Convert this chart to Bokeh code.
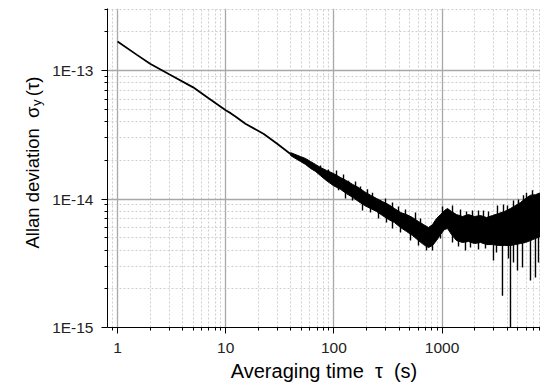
import math
from bokeh.plotting import figure
from bokeh.models import FixedTicker, CustomJSTickFormatter, Label, Range1d
from bokeh.embed import file_html
from bokeh.resources import INLINE

# ---- data ----
tau_line = [1, 1.5, 2, 3, 5, 7, 10, 11.1, 12.3, 15.2, 22.5, 29.9, 39.7, 49.1]
adev_line = [1.68e-13, 1.33e-13, 1.13e-13, 9.36e-14, 7.40e-14, 6.05e-14, 4.90e-14,
             4.66e-14, 4.38e-14, 3.85e-14, 3.21e-14, 2.69e-14, 2.24e-14, 2.05e-14]

tau_band = [39.7, 49.1, 54.6, 60.8, 67.6, 75.2, 85.4, 99.2, 115, 131, 149, 169, 192,
            218, 248, 281, 320, 363, 413, 469, 533, 605, 673, 749, 816, 888, 967,
            1052, 1122, 1222, 1359, 1543, 1754, 1993, 2264, 2572, 2923, 3321, 3773,
            4287, 4769, 5304, 5899, 6561, 7297, 8117]
adev_upper = [2.30e-14, 2.14e-14, 2.07e-14, 1.96e-14, 1.86e-14, 1.76e-14, 1.67e-14,
              1.58e-14, 1.47e-14, 1.39e-14, 1.30e-14, 1.23e-14, 1.14e-14, 1.07e-14,
              1.01e-14, 9.56e-15, 9.06e-15, 8.44e-15, 7.85e-15, 7.57e-15, 7.18e-15,
              6.68e-15, 6.33e-15, 6.00e-15, 6.33e-15, 7.05e-15, 7.57e-15, 8.14e-15,
              8.44e-15, 7.99e-15, 7.57e-15, 7.31e-15, 7.57e-15, 7.31e-15, 7.44e-15,
              7.18e-15, 7.44e-15, 7.71e-15, 7.99e-15, 8.44e-15, 8.90e-15, 9.39e-15,
              1.01e-14, 1.07e-14, 1.08e-14, 1.12e-14]
adev_lower = [2.18e-14, 1.96e-14, 1.86e-14, 1.73e-14, 1.64e-14, 1.52e-14, 1.39e-14,
              1.27e-14, 1.19e-14, 1.10e-14, 1.03e-14, 9.56e-15, 8.90e-15, 8.44e-15,
              7.99e-15, 7.44e-15, 6.93e-15, 6.56e-15, 6.00e-15, 5.59e-15, 5.20e-15,
              4.75e-15, 4.42e-15, 4.19e-15, 4.35e-15, 4.75e-15, 5.29e-15, 5.79e-15,
              5.89e-15, 5.29e-15, 4.75e-15, 4.59e-15, 4.67e-15, 4.50e-15, 4.59e-15,
              4.42e-15, 4.42e-15, 4.35e-15, 4.35e-15, 4.35e-15, 4.42e-15, 4.50e-15,
              4.59e-15, 4.75e-15, 4.93e-15, 5.11e-15]

# noise spikes sticking out of the band: (tau, band value, tip value)
tau_spike = [75.2, 89.1, 105.7, 110.3, 122.7, 128.0, 136.4, 148.6, 158.4, 176.1,
             183.8, 204.4, 217.9, 227.3, 258.4, 299.9, 306.3, 348.0, 348.0, 395.4,
             412.6, 458.9, 510.5, 567.9, 605.2, 631.5, 717.6, 815.5, 966.5, 1009,
             1248, 1248, 1418, 1480, 1645, 1681, 1830, 1910, 2170, 2170, 2413, 2518,
             2685, 2985, 3183, 3251, 3615, 3694, 4021, 4109, 4287, 4571, 4571, 4977,
             5082, 5536, 5655, 6026, 6561, 6846, 7297, 7780]
spike_base = [1.64e-14, 1.50e-14, 1.39e-14, 1.37e-14, 1.32e-14, 1.25e-14, 1.19e-14,
              1.17e-14, 1.14e-14, 1.07e-14, 1.03e-14, 9.73e-15, 9.56e-15, 9.39e-15,
              8.74e-15, 8.29e-15, 7.99e-15, 7.57e-15, 7.57e-15, 7.05e-15, 6.80e-15,
              6.56e-15, 6.22e-15, 6.00e-15, 5.69e-15, 5.59e-15, 5.11e-15, 5.29e-15,
              6.33e-15, 6.56e-15, 6.45e-15, 6.56e-15, 5.89e-15, 5.89e-15, 5.79e-15,
              5.79e-15, 5.79e-15, 5.79e-15, 5.79e-15, 5.79e-15, 5.69e-15, 5.69e-15,
              5.69e-15, 5.79e-15, 5.79e-15, 5.79e-15, 5.89e-15, 5.89e-15, 6.00e-15,
              6.00e-15, 6.00e-15, 6.22e-15, 6.11e-15, 6.33e-15, 6.33e-15, 6.56e-15,
              6.68e-15, 6.80e-15, 7.05e-15, 7.18e-15, 7.31e-15, 7.44e-15]
spike_tip = [1.82e-14, 1.70e-14, 1.67e-14, 1.17e-14, 1.55e-14, 1.01e-14, 1.39e-14,
             9.73e-15, 1.37e-14, 1.25e-14, 8.14e-15, 1.19e-14, 7.85e-15, 1.12e-14,
             7.05e-15, 1.01e-14, 6.56e-15, 5.89e-15, 9.39e-15, 8.74e-15, 5.49e-15,
             8.29e-15, 4.75e-15, 7.85e-15, 4.35e-15, 7.05e-15, 3.97e-15, 3.97e-15,
             4.93e-15, 8.74e-15, 4.59e-15, 8.90e-15, 4.27e-15, 8.29e-15, 3.97e-15,
             7.99e-15, 4.19e-15, 8.14e-15, 4.05e-15, 8.14e-15, 8.14e-15, 4.12e-15,
             7.99e-15, 3.32e-15, 3.84e-15, 8.90e-15, 1.77e-15, 9.06e-15, 8.90e-15,
             3.44e-15, 7.0e-16, 9.73e-15, 3.21e-15, 2.78e-15, 9.91e-15, 2.93e-15,
             1.07e-14, 1.12e-14, 2.32e-15, 1.17e-14, 2.45e-15, 3.21e-15]

x_major = [1, 10, 100, 1000]
x_labels = ["1", "10", "100", "1000"]
x_minor = [0.8, 0.9, 2, 3, 4, 5, 6, 7, 8, 9, 20, 30, 40, 50, 60, 70, 80, 90,
           200, 300, 400, 500, 600, 700, 800, 900, 2000, 3000, 4000, 5000, 6000,
           7000, 8000, 9000]
y_major = [1e-15, 1e-14, 1e-13]
y_labels = ["1E-15", "1E-14", "1E-13"]
y_minor = [2e-15, 3e-15, 4e-15, 5e-15, 6e-15, 7e-15, 8e-15, 9e-15,
           2e-14, 3e-14, 4e-14, 5e-14, 6e-14, 7e-14, 8e-14, 9e-14, 2e-13, 3e-13]

FONT = "Liberation Sans"

p = figure(width=540, height=385, x_axis_type="log", y_axis_type="log",
           x_range=Range1d(0.808, 8120), y_range=Range1d(1e-15, 3.04e-13),
           output_backend="svg", toolbar_location=None, title=None,
           min_border_left=107, min_border_right=0, min_border_top=8,
           min_border_bottom=58)
p.outline_line_color = None
p.background_fill_color = "white"
p.border_fill_color = "white"

fmt_code = """
for (let i = 0; i < vals.length; i++) {
  if (Math.abs(tick - vals[i]) <= 1e-6 * vals[i]) return labs[i];
}
return "";
"""
p.xaxis.ticker = FixedTicker(ticks=x_major, minor_ticks=x_minor)
p.yaxis.ticker = FixedTicker(ticks=y_major, minor_ticks=y_minor)
p.xaxis.formatter = CustomJSTickFormatter(args=dict(vals=x_major, labs=x_labels), code=fmt_code)
p.yaxis.formatter = CustomJSTickFormatter(args=dict(vals=y_major, labs=y_labels), code=fmt_code)

for ax in (p.xaxis, p.yaxis):
    ax.axis_line_color = "black"
    ax.axis_line_width = 1
    ax.major_tick_line_color = "black"
    ax.minor_tick_line_color = "black"
    ax.major_tick_out = 6
    ax.major_tick_in = 0
    ax.minor_tick_out = 3
    ax.minor_tick_in = 0
    ax.major_label_text_font = FONT
    ax.major_label_text_font_size = "15.5px"
    ax.major_label_text_color = "#222222"
    ax.axis_label_text_font = FONT
    ax.axis_label_text_font_size = "20px"
    ax.axis_label_text_font_style = "normal"
    ax.axis_label_text_color = "black"

p.xaxis.major_label_standoff = 9
p.yaxis.major_label_standoff = 8
p.xaxis.axis_label = "Averaging time\u00a0\u00a0\u03c4\u00a0\u00a0(s)"
p.xaxis.axis_label_standoff = 4

for g in (p.xgrid, p.ygrid):
    g.grid_line_color = "#a8a8a8"
    g.grid_line_width = 1.3
    g.minor_grid_line_color = "#cfcfcf"
    g.minor_grid_line_width = 1
    g.minor_grid_line_dash = "2 2"

# y title: main text plus a real-text subscript y, both in the left panel
lab_kw = dict(text_font=FONT, text_color="black", text_baseline="alphabetic",
              angle=math.pi / 2, text_align="left")
p.add_layout(Label(x=0.1638, y=4.12e-15,
                   text="Allan deviation\u00a0\u00a0\u03c3\u00a0\u00a0(\u03c4)",
                   text_font_size="18.5px", **lab_kw), "left")
p.add_layout(Label(x=0.1765, y=5.29e-14, text="y",
                   text_font_size="13px", **lab_kw), "left")

p.varea(x=tau_band, y1=adev_lower, y2=adev_upper, fill_color="black")
p.line(tau_band, adev_upper, line_color="black", line_width=1)
p.line(tau_band, adev_lower, line_color="black", line_width=1)
p.segment(x0=tau_spike, y0=spike_base, x1=tau_spike, y1=spike_tip,
          line_color="black", line_width=1.4)
p.line(tau_line, adev_line, line_color="black", line_width=1.8)

open("out.html", "w").write(file_html(p, INLINE))
